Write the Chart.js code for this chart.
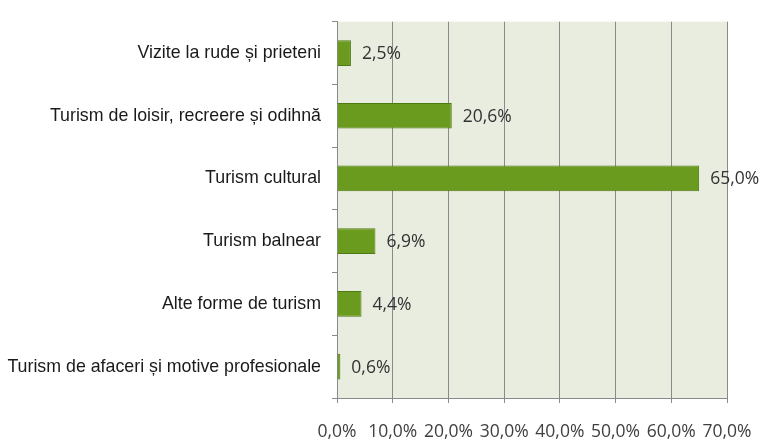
<!DOCTYPE html>
<html><head><meta charset="utf-8">
<script src="https://cdn.jsdelivr.net/npm/chart.js@4"></script>
<style>html,body{margin:0;padding:0;background:#fff}#wrap{width:760px;height:440px}</style>
</head><body><div id="wrap"><canvas id="c" width="760" height="440"></canvas></div>
<script>
const categories = ["Vizite la rude și prieteni","Turism de loisir, recreere și odihnă","Turism cultural","Turism balnear","Alte forme de turism","Turism de afaceri și motive profesionale"];
const values = [2.5, 20.6, 65.0, 6.9, 4.4, 0.6];
const xTicks = [0,10,20,30,40,50,60,70];
const fmt = v => v.toFixed(1).replace('.', ',') + '%';

const bgPlugin = {
  id:'bg',
  beforeDraw(chart){
    const {ctx, chartArea:a} = chart;
    ctx.save(); ctx.fillStyle='#e8ede0'; ctx.fillRect(a.left,a.top,a.right-a.left,a.bottom-a.top); ctx.restore();
  }
};
const labelPlugin = {
  id:'lbl',
  afterDatasetsDraw(chart){
    const ctx = chart.ctx; const meta = chart.getDatasetMeta(0);
    ctx.save(); ctx.font='17.5px "Open Sans", "DejaVu Sans", sans-serif'; ctx.fillStyle='#333'; ctx.textBaseline='middle'; ctx.textAlign='left';
    meta.data.forEach((el,i)=>{ ctx.fillText(fmt(values[i]), el.x+11, el.y+1); });
    ctx.restore();
  }
};
new Chart(document.getElementById('c'), {
  type:'bar',
  data:{labels:categories, datasets:[{data:values, backgroundColor:'#6b9b1e', borderColor:'#4e7a12', borderWidth:1, categoryPercentage:1, barPercentage:0.41}]},
  options:{
    indexAxis:'y', responsive:false, animation:false, devicePixelRatio:1,
    layout:{padding:{top:18,right:0,left:0,bottom:0}},
    plugins:{legend:{display:false}, tooltip:{enabled:false}},
    scales:{
      x:{min:0,max:70,afterBuildTicks(ax){ax.ticks=xTicks.map(v=>({value:v}));},
         afterFit(ax){ax.height=42; ax.paddingRight=33;},
         ticks:{padding:19,color:'#404040',font:{family:'"Open Sans", "DejaVu Sans", sans-serif',size:17.5},callback:v=>fmt(v), maxRotation:0, autoSkip:false},
         grid:{color:'#8a8a8a',lineWidth:1,tickLength:5,drawTicks:true},
         border:{display:true,color:'#8a8a8a'}},
      y:{afterFit(ax){ax.width=337;},
         ticks:{padding:11,color:'#1a1a1a',font:{family:'"Liberation Sans", Arial, sans-serif',size:17.8}},
         grid:{drawOnChartArea:false,color:'#8a8a8a',tickLength:5},
         border:{display:true,color:'#8a8a8a'}}
    }
  },
  plugins:[bgPlugin,labelPlugin]
});
</script></body></html>
